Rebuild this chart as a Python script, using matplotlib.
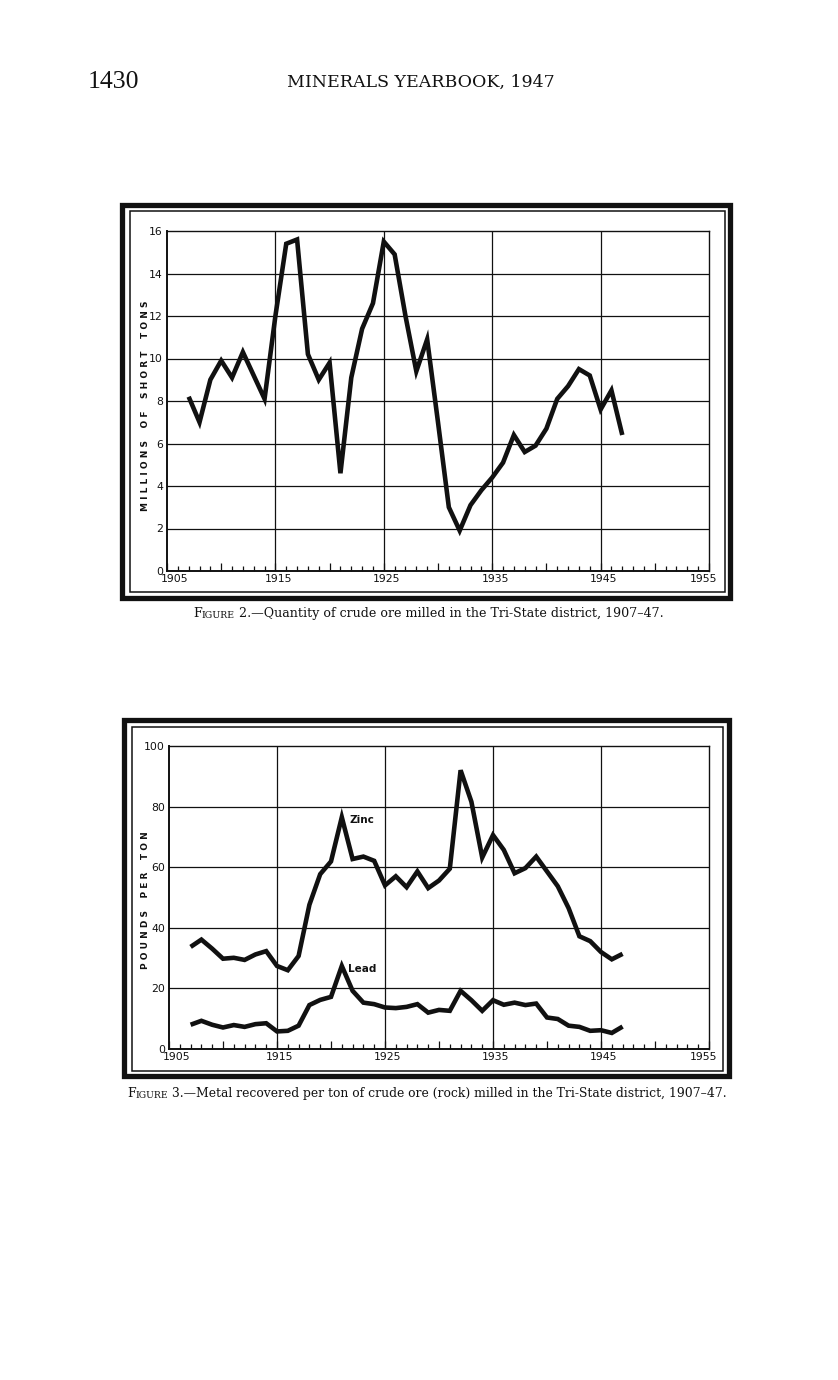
import matplotlib
matplotlib.use("Agg")
import matplotlib.pyplot as plt
from matplotlib.patches import Rectangle
from matplotlib.transforms import ScaledTranslation

# ---------------- data ----------------
years = list(range(1907, 1948))

crude_ore_milled = [8.2, 7.0, 9.0, 9.9, 9.1, 10.3, 9.2, 8.1, 12.0, 15.4,
                    15.6, 10.2, 9.0, 9.8, 4.6, 9.1, 11.4, 12.6, 15.5, 14.9,
                    12.0, 9.4, 10.9, 7.0, 3.0, 1.9, 3.1, 3.8, 4.4, 5.1,
                    6.4, 5.6, 5.9, 6.7, 8.1, 8.7, 9.5, 9.2, 7.6, 8.5, 6.4]

zinc_lb_per_ton = [33.7, 36.1, 33.1, 29.8, 30.1, 29.4, 31.2, 32.3, 27.4, 26.0,
                   30.7, 47.6, 57.7, 61.9, 76.5, 62.7, 63.5, 62.1, 54.0, 57.0,
                   53.4, 58.6, 53.1, 55.6, 59.5, 92.0, 81.6, 63.2, 70.6, 65.7,
                   58.0, 59.7, 63.5, 58.6, 53.7, 46.5, 37.2, 35.6, 32.0, 29.6, 31.4]

lead_lb_per_ton = [8.0, 9.3, 8.0, 7.1, 7.9, 7.3, 8.2, 8.5, 5.8, 6.0,
                   7.7, 14.5, 16.2, 17.2, 27.4, 19.2, 15.3, 14.8, 13.7, 13.5,
                   13.9, 14.8, 12.0, 12.9, 12.6, 19.2, 16.1, 12.6, 16.1, 14.6,
                   15.3, 14.5, 15.0, 10.4, 9.9, 7.7, 7.3, 6.0, 6.2, 5.3, 7.4]

x_decades = [1905, 1915, 1925, 1935, 1945, 1955]
x_decade_labels = ["1905", "1915", "1925", "1935", "1945", "1955"]
fig2_yticks = [0, 2, 4, 6, 8, 10, 12, 14, 16]
fig3_yticks = [0, 20, 40, 60, 80, 100]

page_number = "1430"
page_title = "MINERALS YEARBOOK, 1947"
fig2_ylabel = "M I L L I O N S    O F    S H O R T    T O N S"
fig3_ylabel = "P O U N D S    P E R    T O N"
fig2_caption = ("F", "IGURE", " 2.—Quantity of crude ore milled in the Tri-State district, 1907–47.")
fig3_caption = ("F", "IGURE", " 3.—Metal recovered per ton of crude ore (rock) milled in the Tri-State district, 1907–47.")
series_labels = ["Zinc", "Lead"]

# ---------------- layout ----------------
W, H = 838, 1380
DPI = 100
fig = plt.figure(figsize=(W / DPI, H / DPI), dpi=DPI)
fig.patch.set_facecolor("white")

SANS = ["DejaVu Sans"]
SERIF = ["DejaVu Serif"]
INK = "#111111"
LINE_W = 3.3


def px_rect(left, top, right, bottom):
    return [left / W, 1 - bottom / H, (right - left) / W, (bottom - top) / H]


def frame(left, top, right, bottom, inner):
    fig.patches.append(Rectangle((left / W, 1 - bottom / H), (right - left) / W,
                                 (bottom - top) / H, transform=fig.transFigure,
                                 fill=False, lw=3.8, ec=INK, joinstyle="miter"))
    l2, t2, r2, b2 = inner
    fig.patches.append(Rectangle((l2 / W, 1 - b2 / H), (r2 - l2) / W,
                                 (b2 - t2) / H, transform=fig.transFigure,
                                 fill=False, lw=1.1, ec=INK))


def style_axes(ax, yticks, ymax):
    ax.set_xlim(1905, 1955)
    ax.set_ylim(0, ymax)
    ax.set_facecolor("none")
    for s in ax.spines.values():
        s.set_color(INK)
        s.set_linewidth(1.0)
    ax.spines["left"].set_linewidth(1.4)
    ax.spines["bottom"].set_linewidth(1.4)
    # grid
    for xv in x_decades[1:-1]:
        ax.axvline(xv, color=INK, lw=0.9, zorder=1)
    for yv in yticks[1:-1]:
        ax.axhline(yv, color=INK, lw=0.9, zorder=1)
    # ticks
    five = list(range(1905, 1956, 5))
    ax.set_xticks(five)
    ax.set_xticklabels([str(v) if v in x_decades else "" for v in five],
                       fontsize=7.8, family=SANS, color=INK)
    ax.set_xticks(list(range(1905, 1956)), minor=True)
    ax.tick_params(axis="x", which="major", direction="in", length=5.5, width=0.9,
                   pad=2, color=INK)
    ax.tick_params(axis="x", which="minor", direction="in", length=3.5, width=0.9,
                   color=INK)
    # small offsets of the hand-lettered year labels
    for lab in ax.get_xticklabels():
        txt = lab.get_text()
        if txt == "1905":
            dx = 8
        elif txt == "1955":
            dx = -5
        else:
            dx = 3
        lab.set_transform(lab.get_transform() + ScaledTranslation(dx / DPI, 0, fig.dpi_scale_trans))
    ax.set_yticks(yticks)
    ax.set_yticklabels([str(v) for v in yticks], fontsize=7.8, family=SANS, color=INK)
    ax.tick_params(axis="y", which="major", length=0, pad=3)


# ---------------- header ----------------
fig.text(88 / W, 1 - 82 / H, page_number, fontsize=18.5, family=["Liberation Serif"],
         ha="left", va="center", color=INK)
fig.text(421 / W, 1 - 82 / H, page_title, fontsize=12.5, family=SERIF,
         ha="center", va="center", color=INK)

# ---------------- figure 2 ----------------
frame(122, 205, 730, 598, (130, 211, 725, 592))
ax2 = fig.add_axes(px_rect(167, 231, 709, 571))
style_axes(ax2, fig2_yticks, 16)
ax2.plot(years, crude_ore_milled, color=INK, lw=LINE_W, solid_joinstyle="miter",
         solid_capstyle="butt", zorder=3)
fig.text(145 / W, 1 - 406 / H, fig2_ylabel, rotation=90, fontsize=6.5,
         family=SANS, weight="bold", ha="center", va="center", color=INK)


def caption(x, y, parts, size):
    t1 = fig.text(x / W, 1 - y / H, parts[0], fontsize=size, family=SERIF,
                  ha="left", va="baseline", color=INK)
    a2 = plt.annotate(parts[1], xy=(1, 0), xycoords=t1, fontsize=size * 0.75,
                      family=SERIF, ha="left", va="bottom", color=INK,
                      annotation_clip=False)
    plt.annotate(parts[2], xy=(1, 0), xycoords=a2, fontsize=size, family=SERIF,
                 ha="left", va="bottom", color=INK, annotation_clip=False)


caption(193, 617, fig2_caption, 9.05)

# ---------------- figure 3 ----------------
frame(124, 720, 729, 1076, (132, 727, 723, 1071))
ax3 = fig.add_axes(px_rect(169, 746, 709, 1049))
style_axes(ax3, fig3_yticks, 100)
ax3.plot(years, zinc_lb_per_ton, color=INK, lw=LINE_W, solid_joinstyle="miter",
         solid_capstyle="butt", zorder=3)
ax3.plot(years, lead_lb_per_ton, color=INK, lw=LINE_W, solid_joinstyle="miter",
         solid_capstyle="butt", zorder=3)
ax3.text(1921.7, 75.5, series_labels[0], fontsize=7.5, family=SANS, weight="bold",
         ha="left", va="center", color=INK)
ax3.text(1921.6, 26.5, series_labels[1], fontsize=7.5, family=SANS, weight="bold",
         ha="left", va="center", color=INK)
fig.text(145 / W, 1 - 900 / H, fig3_ylabel, rotation=90, fontsize=6.5,
         family=SANS, weight="bold", ha="center", va="center", color=INK)

caption(127, 1097, fig3_caption, 8.95)

fig.savefig("out.png", dpi=DPI, facecolor="white")
